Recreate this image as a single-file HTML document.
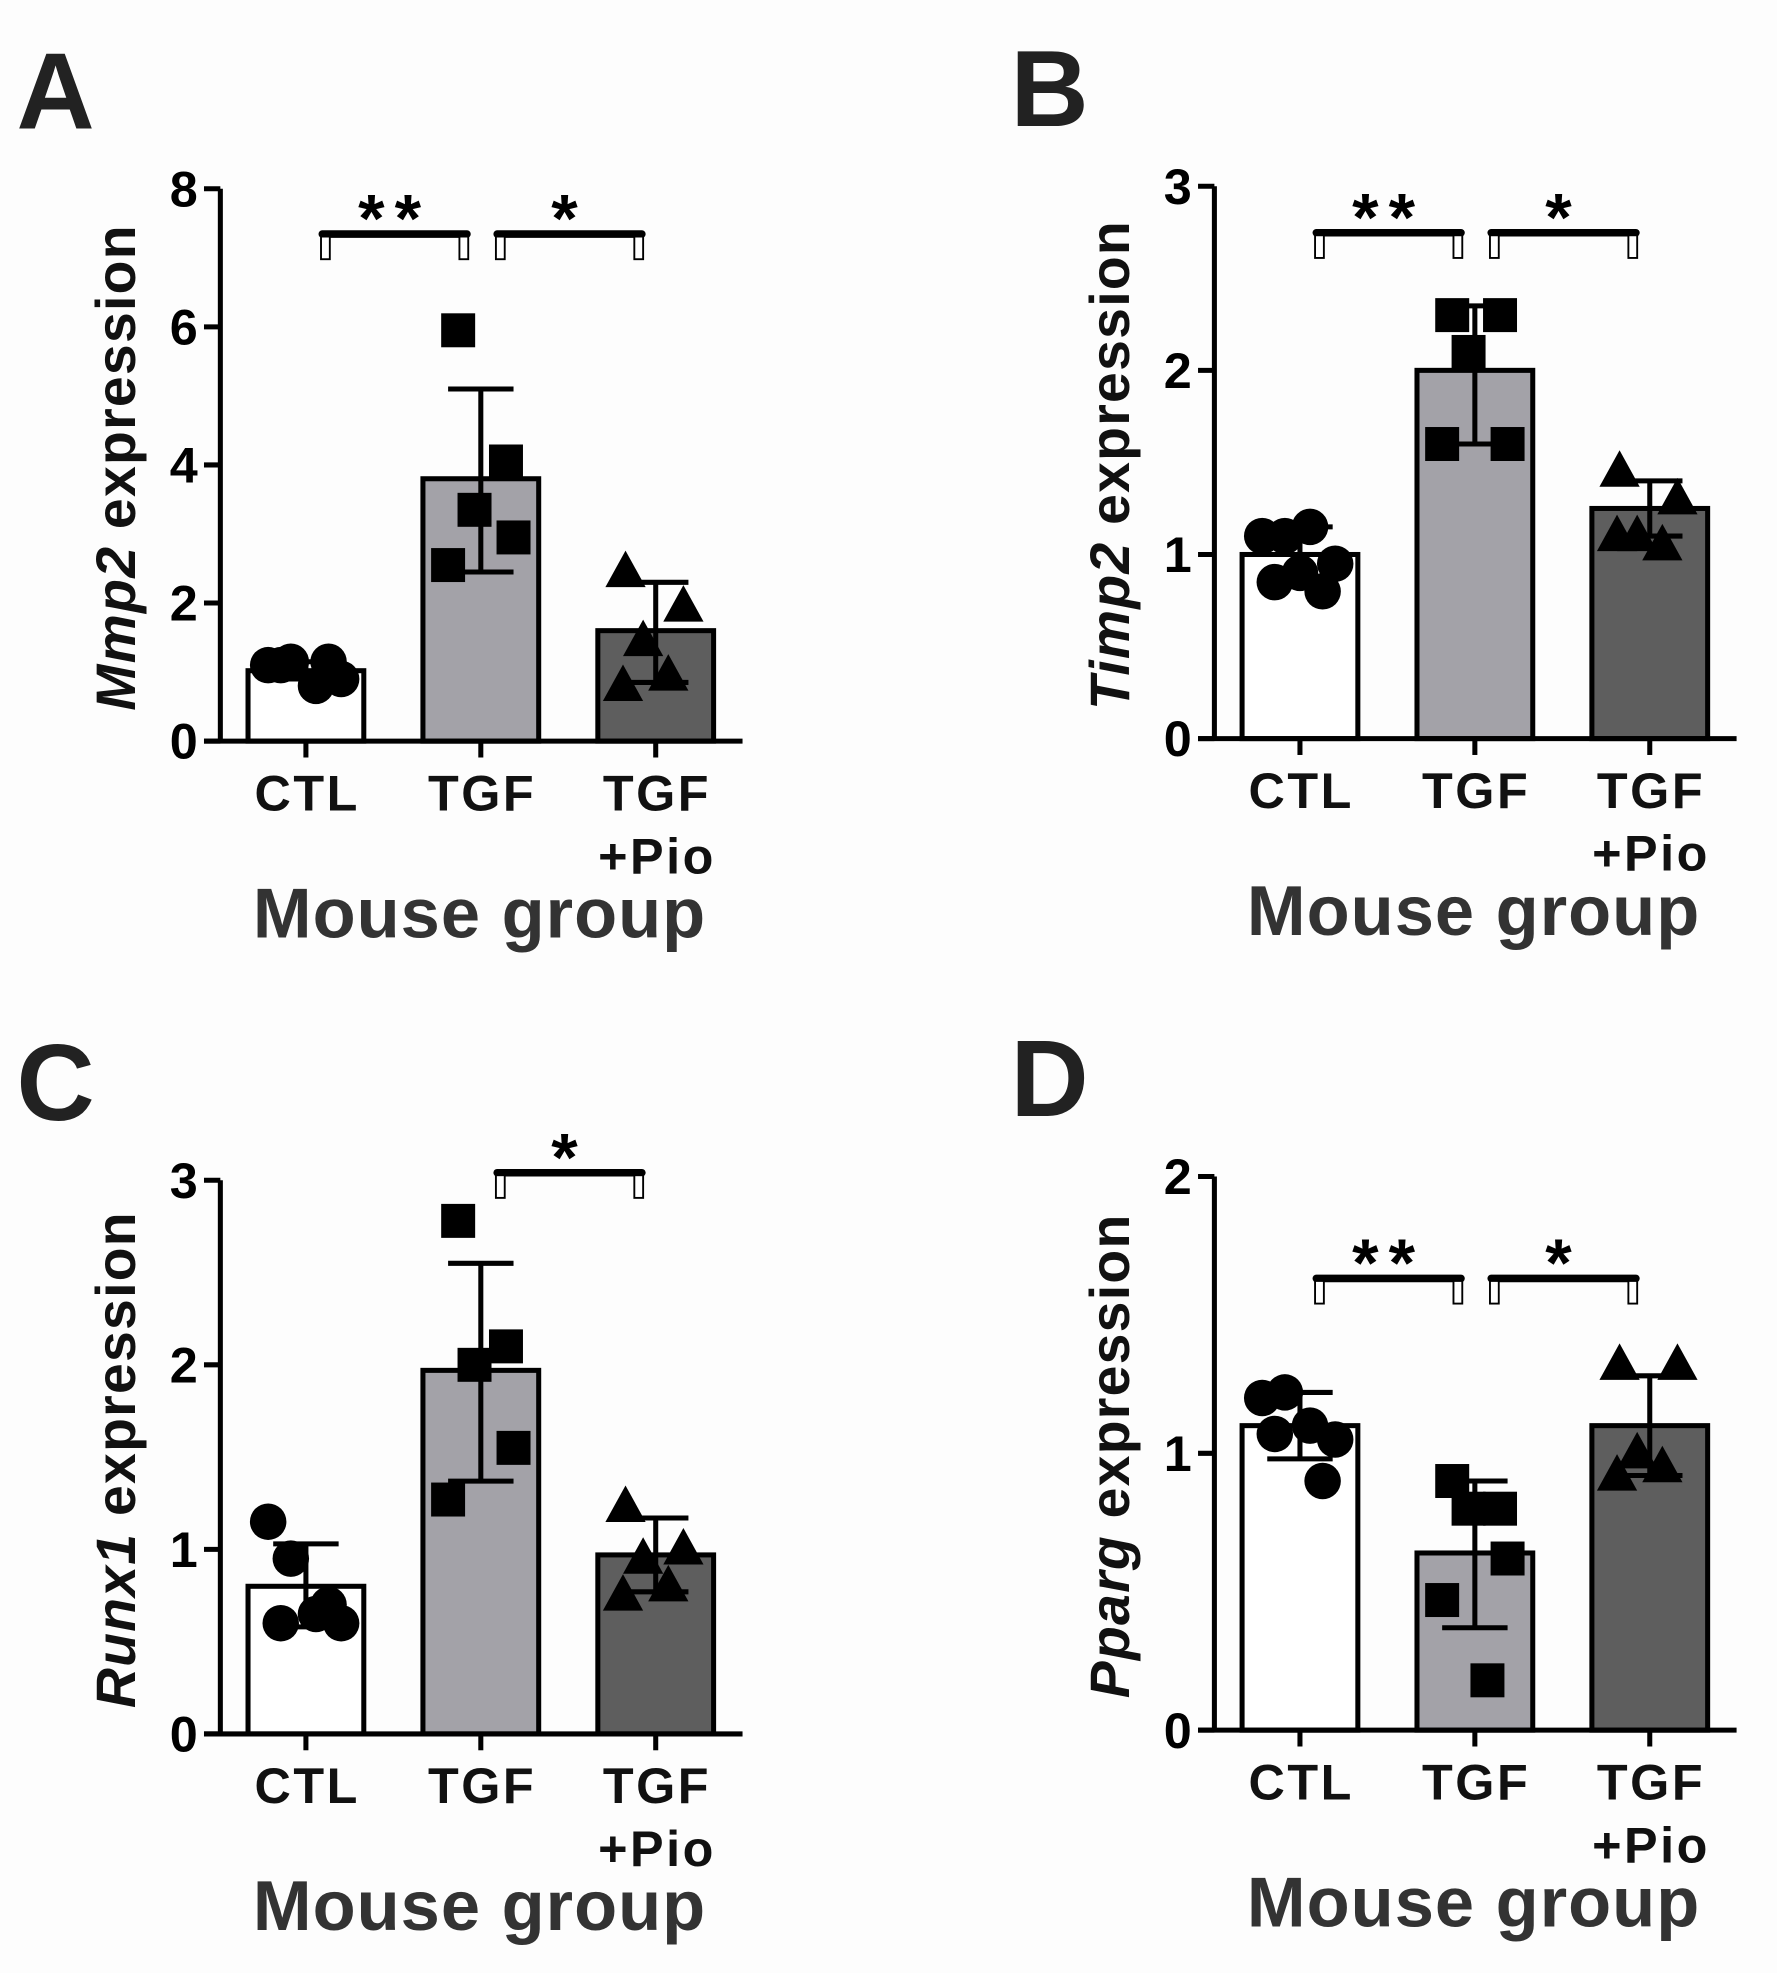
<!DOCTYPE html>
<html><head><meta charset="utf-8"><style>
html,body{margin:0;padding:0;background:#fdfdfd}
svg{display:block}
text{font-family:"Liberation Sans",Arial,sans-serif;font-weight:bold}
</style></head><body>
<svg id="fig" width="1777" height="1973" viewBox="0 0 1412 1568" xmlns="http://www.w3.org/2000/svg"></svg>
<script>
const categories = ["CTL","TGF","TGF+Pio"];
const fills = ["#ffffff","#a3a2a8","#5e5e5e"];
// Panel A: Mmp2
const aMeans = [1.02, 3.8, 1.6];
const aErrHi = [1.15, 5.1, 2.3];
const aErrLo = [0.9, 2.45, 0.85];
const aPts = [[1.1,1.15,0.8,0.9,1.1,1.15],[5.95,4.05,3.35,2.95,2.55],[2.45,1.95,1.45,0.95,0.8]];
const aTicks = [0,2,4,6,8];
// Panel B: Timp2
const bMeans = [1.0, 2.0, 1.25];
const bErrHi = [1.15, 2.35, 1.4];
const bErrLo = [0.85, 1.6, 1.1];
const bPts = [[1.1,1.1,1.15,0.95,0.85,0.8,0.9],[2.3,2.3,2.1,1.6,1.6],[1.45,1.3,1.1,1.05,1.1]];
const bTicks = [0,1,2,3];
// Panel C: Runx1
const cMeans = [0.8, 1.97, 0.97];
const cErrHi = [1.03, 2.55, 1.17];
const cErrLo = [0.58, 1.37, 0.77];
const cPts = [[1.15,0.95,0.65,0.6,0.6,0.7],[2.78,2.1,2.0,1.55,1.27],[1.23,1.0,0.95,0.8,0.75]];
const cTicks = [0,1,2,3];
// Panel D: Pparg
const dMeans = [1.1, 0.64, 1.1];
const dErrHi = [1.22, 0.9, 1.28];
const dErrLo = [0.98, 0.37, 0.92];
const dPts = [[1.2,1.22,1.1,1.05,1.07,0.9],[0.9,0.8,0.8,0.62,0.47,0.18],[1.32,1.32,1.0,0.95,0.92]];
const dTicks = [0,1,2];

const NS="http://www.w3.org/2000/svg";
const svg=document.getElementById('fig');
function mk(tag,attrs,parent,txt){const e=document.createElementNS(NS,tag);for(const k in attrs)e.setAttribute(k,attrs[k]);if(txt!==undefined)e.textContent=txt;(parent||svg).appendChild(e);return e;}

const jitter=[[-30,-12,8,28,-20,18,0],[-18,20,-5,26,-26,10],[-24,22,-10,10,-26,24]];

function panel(o){
  const g=mk('g',{});
  
  
  const X0=o.x0, Ytop=o.ytop, Ybot=o.ybot, max=o.ticks[o.ticks.length-1];
  const y=v=>Ybot-(v/max)*(Ybot-Ytop);
  const cx=i=>X0+68+i*139;
  let t=mk('text',{x:X0-162,y:Ytop-48,'font-size':86,'letter-spacing':2,fill:'#222'},g,o.letter);
  
  // bars
  o.means.forEach((m,i)=>{
    const r=mk('rect',{x:cx(i)-46,y:y(m),width:92,height:Ybot-y(m),fill:fills[i],stroke:'#000','stroke-width':4},g);
    
    
  });
  // points
  o.pts.forEach((arr,i)=>{arr.forEach((v,j)=>{
    const px=cx(i)+jitter[i][j%jitter[i].length], py=y(v);let e;
    if(i===0)e=mk('circle',{cx:px,cy:py,r:14.5,fill:'#000'},g);
    else if(i===1)e=mk('rect',{x:px-13.5,y:py-13.5,width:27,height:27,fill:'#000'},g);
    else e=mk('polygon',{points:`${px},${py-17} ${px-16},${py+12} ${px+16},${py+12}`,fill:'#000'},g);
    
    
  });});
  // error bars
  o.means.forEach((m,i)=>{
    const c=cx(i);
    const e=mk('path',{d:`M${c},${y(o.hi[i])}V${y(o.lo[i])}M${c-26},${y(o.hi[i])}H${c+26}M${c-26},${y(o.lo[i])}H${c+26}`,stroke:'#000','stroke-width':4,fill:'none'},g);
    
  });
  // axes
  let ax=mk('path',{d:`M${X0},${Ytop}V${Ybot}M${X0-13},${Ybot}H${X0+415}`,stroke:'#000','stroke-width':4,fill:'none'},g);
  
  o.ticks.forEach(v=>{
    mk('path',{d:`M${X0-13},${y(v)}H${X0}`,stroke:'#000','stroke-width':4},g);
    const tl=mk('text',{x:X0-18,y:y(v)+14,'font-size':40,'text-anchor':'end',fill:'#000'},g,v);
    
  });
  categories.forEach((c,i)=>{
    mk('path',{d:`M${cx(i)},${Ybot}V${Ybot+13}`,stroke:'#000','stroke-width':4},g);
    const parts=c==='TGF+Pio'?['TGF','+Pio']:[c];
    parts.forEach((p,k)=>{const tl=mk('text',{x:cx(i)+1,y:Ybot+55+k*50,'font-size':40,'letter-spacing':2,'text-anchor':'middle',fill:'#111'},g,p);
      });
  });
  const xt=mk('text',{x:X0+206,y:Ybot+156,'font-size':56,'letter-spacing':0.8,'text-anchor':'middle',fill:'#333'},g,'Mouse group');
  
  const yt=mk('text',{transform:`translate(${X0-68},${(Ytop+Ybot)/2+2}) rotate(-90)`,'font-size':44,'letter-spacing':1,'text-anchor':'middle',fill:'#111'},g);
  
  mk('tspan',{'font-style':'italic'},yt,o.gene);mk('tspan',{},yt,' expression');
  // significance brackets
  o.sig.forEach(s=>{
    const a=cx(s.from)+13, b=cx(s.to)-11, by=s.y;
    const br=mk('path',{d:`M${a},${by}H${b}`,stroke:'#000','stroke-width':6,'stroke-linecap':'round'},g);
    
    mk('rect',{x:a-1,y:by+2,width:7,height:18,fill:'#fff',stroke:'#000','stroke-width':1.5},g);
    mk('rect',{x:b-6,y:by+2,width:7,height:18,fill:'#fff',stroke:'#000','stroke-width':1.5},g);
    const st=mk('text',{x:(a+b)/2,y:by+6,'font-size':54,'letter-spacing':8,'text-anchor':'middle',fill:'#000'},g,s.label);
    
  });
}
panel({letter:'A',gene:'Mmp2',x0:175,ytop:150,ybot:589,ticks:aTicks,means:aMeans,hi:aErrHi,lo:aErrLo,pts:aPts,
  sig:[{from:0,to:1,y:186,label:'**'},{from:1,to:2,y:186,label:'*'}]});
panel({letter:'B',gene:'Timp2',x0:965,ytop:148,ybot:587,ticks:bTicks,means:bMeans,hi:bErrHi,lo:bErrLo,pts:bPts,
  sig:[{from:0,to:1,y:185,label:'**'},{from:1,to:2,y:185,label:'*'}]});
panel({letter:'C',gene:'Runx1',x0:175,ytop:938,ybot:1378,ticks:cTicks,means:cMeans,hi:cErrHi,lo:cErrLo,pts:cPts,
  sig:[{from:1,to:2,y:932,label:'*'}]});
panel({letter:'D',gene:'Pparg',x0:965,ytop:935,ybot:1375,ticks:dTicks,means:dMeans,hi:dErrHi,lo:dErrLo,pts:dPts,
  sig:[{from:0,to:1,y:1016,label:'**'},{from:1,to:2,y:1016,label:'*'}]});
</script>
</body></html>
